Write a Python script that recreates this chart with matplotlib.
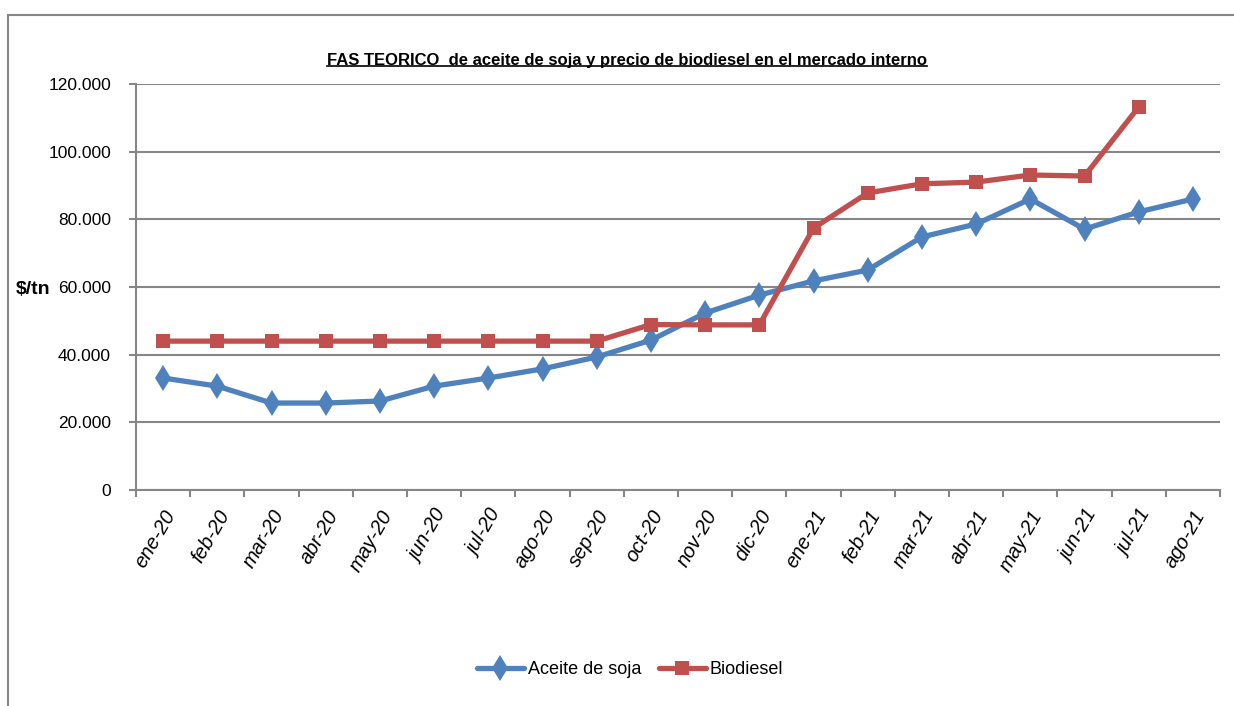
import matplotlib
matplotlib.use("Agg")
import matplotlib.pyplot as plt
from matplotlib.patches import Rectangle
from matplotlib.ticker import FuncFormatter, FixedLocator

plt.rcParams['font.family'] = ['Liberation Sans', 'DejaVu Sans']

meses = ['ene-20', 'feb-20', 'mar-20', 'abr-20', 'may-20', 'jun-20', 'jul-20',
         'ago-20', 'sep-20', 'oct-20', 'nov-20', 'dic-20', 'ene-21', 'feb-21',
         'mar-21', 'abr-21', 'may-21', 'jun-21', 'jul-21', 'ago-21']
aceite = [33100, 30700, 25700, 25700, 26300, 30700, 33100, 35800, 39300, 44300,
          52300, 57600, 61800, 65000, 74800, 78600, 86000, 77100, 82200, 86000]
biodiesel = [44000, 44000, 44000, 44000, 44000, 44000, 44000, 44000, 44000, 48900,
             48800, 48800, 77400, 87800, 90500, 91000, 93100, 92800, 113200]

azul = '#4f81bd'
rojo = '#c0504d'

fig = plt.figure(figsize=(12.34, 7.06), dpi=100)
# chart border (partly out of picture)
fig.patches.append(Rectangle((8 / 1234, -0.05), 1.5, 1 - 15 / 706 + 0.05,
                             transform=fig.transFigure, fill=False,
                             edgecolor='#868686', linewidth=1.5))

ax = fig.add_axes([136 / 1234, 1 - 490 / 706, (1220 - 136) / 1234, (490 - 84) / 706])
x = list(range(len(meses)))
ax.plot(x, aceite, color=azul, linewidth=3.8, marker='d', markersize=13,
        markeredgewidth=0, label='Aceite de soja', solid_joinstyle='round',
        solid_capstyle='round')
ax.plot(x[:len(biodiesel)], biodiesel, color=rojo, linewidth=3.8, marker='s',
        markersize=10.5, markeredgewidth=0, label='Biodiesel',
        solid_joinstyle='round', solid_capstyle='round')

ax.set_xlim(-0.5, len(meses) - 0.5)
ax.set_ylim(0, 120000)
ax.set_yticks(range(0, 120001, 20000))
ax.yaxis.set_major_formatter(FuncFormatter(lambda v, p: f'{int(v):,}'.replace(',', '.')))
ax.grid(axis='y', color='#868686', linewidth=1.5)
ax.set_axisbelow(True)

ax.set_xticks(x)
ax.set_xticklabels(meses, rotation=60, ha='right', rotation_mode='anchor',
                   style='italic', fontsize=14.5)
ax.xaxis.set_minor_locator(FixedLocator([i - 0.5 for i in range(len(meses) + 1)]))
ax.tick_params(axis='x', which='major', length=0, pad=12)
ax.tick_params(axis='x', which='minor', length=5, width=1.5, color='#868686')
ax.tick_params(axis='y', length=5, width=1.5, color='#868686', labelsize=12.5, pad=13)

for s in ['top', 'right']:
    ax.spines[s].set_visible(False)
for s in ['left', 'bottom']:
    ax.spines[s].set_color('#868686')
    ax.spines[s].set_linewidth(1.5)

fig.text(33 / 1234, 1 - 290 / 706, '$/tn', fontsize=14, fontweight='bold',
         ha='center', va='center')
titulo = fig.text(627 / 1234, 1 - 60 / 706,
                  'FAS TEORICO  de aceite de soja y precio de biodiesel en el mercado interno',
                  fontsize=12, fontweight='bold', ha='center', va='center')
fig.canvas.draw()
bb = titulo.get_window_extent().transformed(fig.transFigure.inverted())
fig.add_artist(plt.Line2D([bb.x0, bb.x1], [bb.y0 + 0.002, bb.y0 + 0.002],
                          transform=fig.transFigure, color='black', linewidth=1.2))

fig.legend(loc='center', bbox_to_anchor=(630 / 1234, 1 - 670 / 706), ncol=2,
           frameon=False, fontsize=13, handlelength=2.6, columnspacing=1.0,
           handletextpad=0.2)

fig.savefig('out.png', dpi=100)
